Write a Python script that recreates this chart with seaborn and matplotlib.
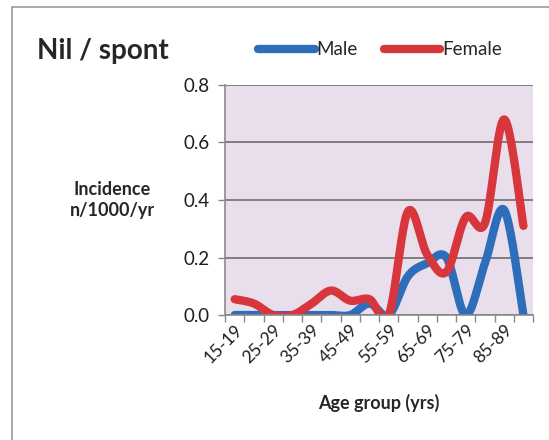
import numpy as np
import pandas as pd
import matplotlib
matplotlib.use("Agg")
import matplotlib.pyplot as plt
import seaborn as sns
from matplotlib.patches import Rectangle
from matplotlib.lines import Line2D

age_groups = ["15-19", "20-24", "25-29", "30-34", "35-39", "40-44", "45-49", "50-54",
              "55-59", "60-64", "65-69", "70-74", "75-79", "80-84", "85-89", "90+"]
male = [0.0, 0.0, 0.0, 0.0, 0.0, 0.0, 0.0, 0.04, 0.0, 0.135, 0.18, 0.2, 0.0, 0.18, 0.365, 0.0]
female = [0.055, 0.04, 0.0, 0.0, 0.04, 0.085, 0.05, 0.055, 0.0, 0.36, 0.21, 0.15, 0.34, 0.32, 0.68, 0.31]
series_names = ["Male", "Female"]
colors = {"Male": "#2E6DB9", "Female": "#D8363D"}
shown_labels = age_groups[0:15:2]


def smooth(xs, ys, n=30):
    # Catmull-Rom spline through the data points (rendering of a smoothed line)
    xs = np.asarray(xs, float)
    ys = np.asarray(ys, float)
    P = np.column_stack([xs, ys])
    P = np.vstack([P[0], P, P[-1]])
    out = []
    for i in range(1, len(P) - 2):
        p0, p1, p2, p3 = P[i - 1], P[i], P[i + 1], P[i + 2]
        t = np.linspace(0, 1, n, endpoint=False)[:, None]
        c = 0.5 * ((2 * p1) + (-p0 + p2) * t + (2 * p0 - 5 * p1 + 4 * p2 - p3) * t ** 2
                   + (-p0 + 3 * p1 - 3 * p2 + p3) * t ** 3)
        out.append(c)
    out.append(P[-2][None, :])
    out = np.vstack(out)
    return out[:, 0], out[:, 1]


frames = []
idx = np.arange(len(age_groups))
for name, vals in zip(series_names, [male, female]):
    sx, sy = smooth(idx, vals)
    frames.append(pd.DataFrame({"x": sx, "y": sy, "Sex": name}))
df = pd.concat(frames, ignore_index=True)

sns.set_theme(style="white")
plt.rcParams["font.family"] = ["Lato", "DejaVu Sans"]

fig = plt.figure(figsize=(5.49, 4.40), dpi=100)
ax = fig.add_axes([0.41, 0.284, 0.561, 0.523])
ax.set_facecolor("#E9DFEC")

sns.lineplot(data=df, x="x", y="y", hue="Sex", palette=colors, hue_order=series_names,
             estimator=None, sort=False, linewidth=6, ax=ax, legend=False,
             solid_capstyle="round")

ax.set_xlim(-0.5, len(age_groups) - 0.5)
ax.set_ylim(0, 0.8)
ax.set_yticks([0, 0.2, 0.4, 0.6, 0.8])
ax.set_yticklabels(["0.0", "0.2", "0.4", "0.6", "0.8"], fontsize=13.5, color="#1E1E1E")
ax.set_xticks(idx[0:15:2])
ax.set_xticklabels(shown_labels, rotation=45, ha="right", rotation_mode="anchor",
                   fontsize=12.5, color="#1E1E1E")
ax.set_xticks(np.arange(-0.5, len(age_groups), 1.0), minor=True)
ax.tick_params(axis="x", which="major", length=0, pad=5)
ax.tick_params(axis="x", which="minor", length=5, width=1, color="#888888", direction="out", bottom=True)
ax.tick_params(axis="y", length=5, width=1, color="#888888", direction="out", left=True, pad=6)
ax.grid(axis="y", color="#6E6E6E", linewidth=1.2)
ax.set_axisbelow(True)
for s in ["top", "right"]:
    ax.spines[s].set_visible(False)
for s in ["left", "bottom"]:
    ax.spines[s].set_color("#8A8A8A")
    ax.spines[s].set_linewidth(1.2)

ax.set_xlabel("Age group (yrs)", fontsize=13, fontweight="bold", labelpad=20)
ax.set_ylabel("")
fig.text(0.205, 0.545, "Incidence\nn/1000/yr", ha="center", va="center",
         fontsize=13, fontweight="bold", linespacing=1.3)
fig.text(0.068, 0.885, "Nil / spont", ha="left", va="center", fontsize=20, fontweight="bold")

handles = [Line2D([0], [0], color=colors[n], lw=6, solid_capstyle="round") for n in series_names]
fig.legend(handles, series_names, loc="center left", bbox_to_anchor=(0.44, 0.887), ncol=2,
           frameon=False, handlelength=3.0, handletextpad=0.1, columnspacing=1.4, fontsize=13.5)

fig.patches.append(Rectangle((0.022, -0.01), 0.99, 0.995, transform=fig.transFigure,
                             fill=False, edgecolor="#9A9A9A", linewidth=1.2))

fig.savefig("out.png", dpi=100)
